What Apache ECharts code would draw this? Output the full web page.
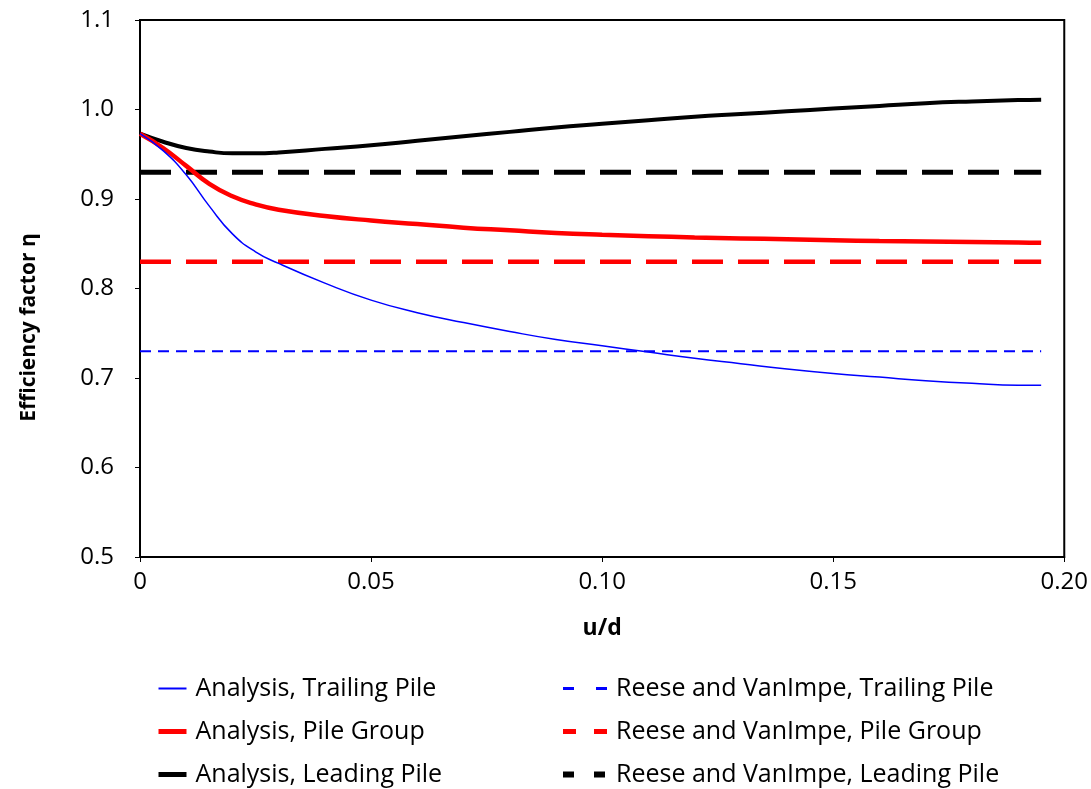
<!DOCTYPE html>
<html>
<head>
<meta charset="utf-8">
<script src="https://cdn.jsdelivr.net/npm/echarts@6/dist/echarts.min.js"></script>
<style>
  html, body { margin: 0; padding: 0; background: #fff; }
  #chart { width: 1091px; height: 789px; }
</style>
</head>
<body>
<div id="chart"></div>
<script>
// Horizontal displacement ratio u/d
const uValues = [0, 0.005, 0.01, 0.015, 0.02, 0.025, 0.03, 0.04, 0.05, 0.06, 0.07, 0.08,
                 0.09, 0.10, 0.11, 0.12, 0.13, 0.14, 0.15, 0.16, 0.17, 0.18, 0.19, 0.195];

// Efficiency factor from the analysis
const trailingPile = [0.973, 0.954, 0.927, 0.892, 0.861, 0.841, 0.828, 0.806, 0.787, 0.773, 0.762, 0.752,
                      0.743, 0.736, 0.729, 0.722, 0.716, 0.710, 0.705, 0.701, 0.697, 0.694, 0.692, 0.692];
const pileGroup    = [0.973, 0.957, 0.937, 0.917, 0.903, 0.894, 0.888, 0.881, 0.876, 0.872, 0.868, 0.865,
                      0.862, 0.860, 0.8585, 0.857, 0.856, 0.855, 0.854, 0.853, 0.8525, 0.852, 0.8515, 0.851];
const leadingPile  = [0.973, 0.964, 0.957, 0.953, 0.951, 0.951, 0.952, 0.956, 0.960, 0.965, 0.970, 0.975,
                      0.980, 0.984, 0.988, 0.992, 0.995, 0.998, 1.001, 1.004, 1.007, 1.009, 1.0105, 1.011];

// Constant efficiency factors (Reese and VanImpe)
const reeseRange = [0, 0.195];
const reeseTrailing = 0.73;
const reeseGroup = 0.83;
const reeseLeading = 0.93;

const seriesNames = [
  'Analysis, Trailing Pile', 'Analysis, Pile Group', 'Analysis, Leading Pile',
  'Reese and VanImpe, Trailing Pile', 'Reese and VanImpe, Pile Group', 'Reese and VanImpe, Leading Pile'
];

const xTicks = [0, 0.05, 0.10, 0.15, 0.20];
const yTicks = [0.5, 0.6, 0.7, 0.8, 0.9, 1.0, 1.1];

const FONT = '"Open Sans"';

function pairs(ys) { return uValues.map((u, i) => [u, ys[i]]); }
function flat(v) { return reeseRange.map(u => [u, v]); }

const chart = echarts.init(document.getElementById('chart'));

const legendText = { fontFamily: FONT, fontSize: 25, color: '#000', padding: [0, 0, 0, 4] };
// legend shows only the line sample, no marker
const legendMarker = { opacity: 0 };

chart.setOption({
  animation: false,
  backgroundColor: '#fff',
  grid: {
    left: 140, right: 26, top: 20, bottom: 232,
    show: true, borderColor: '#000', borderWidth: 2, backgroundColor: 'transparent'
  },
  xAxis: {
    type: 'value',
    min: xTicks[0], max: xTicks[xTicks.length - 1], interval: 0.05,
    name: 'u/d', nameLocation: 'middle', nameGap: 60,
    nameTextStyle: { fontFamily: FONT, fontSize: 23, fontWeight: 'bold', color: '#000' },
    axisLine: { lineStyle: { color: '#000', width: 2 } },
    axisTick: { show: true, length: 5, lineStyle: { color: '#000', width: 1 } },
    axisLabel: {
      margin: 13, fontFamily: FONT, fontSize: 24, color: '#000',
      formatter: v => (v === 0 ? '0' : v.toFixed(2))
    },
    splitLine: { show: false }
  },
  yAxis: {
    type: 'value',
    min: yTicks[0], max: yTicks[yTicks.length - 1], interval: 0.1,
    name: 'Efficiency factor η', nameLocation: 'middle', nameGap: 100,
    nameTextStyle: {
      fontFamily: FONT, fontSize: 21, fontWeight: 'bold', color: '#000',
      padding: [0, 78, 0, 0]
    },
    axisLine: { lineStyle: { color: '#000', width: 2 } },
    axisTick: { show: true, length: 5, lineStyle: { color: '#000', width: 1 } },
    axisLabel: {
      margin: 26, fontFamily: FONT, fontSize: 24, color: '#000',
      formatter: v => v.toFixed(1)
    },
    splitLine: { show: false }
  },
  legend: [
    {
      orient: 'vertical', left: 156, top: 676, itemGap: 18, padding: 0,
      itemWidth: 28, itemHeight: 14, textStyle: legendText, itemStyle: legendMarker,
      data: [
        { name: seriesNames[0], lineStyle: { width: 2 } },
        { name: seriesNames[1], lineStyle: { width: 5 } },
        { name: seriesNames[2], lineStyle: { width: 5 } }
      ]
    },
    {
      orient: 'vertical', left: 560, top: 676, itemGap: 18, padding: 0,
      itemWidth: 44, itemHeight: 14, textStyle: legendText, itemStyle: legendMarker,
      data: [
        { name: seriesNames[3], lineStyle: { width: 3, type: [11, 22] } },
        { name: seriesNames[4], lineStyle: { width: 5, type: [13, 18] } },
        { name: seriesNames[5], lineStyle: { width: 6, type: [11, 20] } }
      ]
    }
  ],
  series: [
    {
      name: seriesNames[0], type: 'line', data: pairs(trailingPile), smooth: 0.5,
      symbol: 'none', lineStyle: { color: '#0000ff', width: 1.5 }, itemStyle: { color: '#0000ff' }, z: 5
    },
    {
      name: seriesNames[1], type: 'line', data: pairs(pileGroup), smooth: 0.5,
      symbol: 'none', lineStyle: { color: '#ff0000', width: 4.5 }, itemStyle: { color: '#ff0000' }, z: 4
    },
    {
      name: seriesNames[2], type: 'line', data: pairs(leadingPile), smooth: 0.5,
      symbol: 'none', lineStyle: { color: '#000000', width: 4 }, itemStyle: { color: '#000000' }, z: 3
    },
    {
      name: seriesNames[3], type: 'line', data: flat(reeseTrailing),
      symbol: 'none', lineStyle: { color: '#0000ff', width: 2, type: [11, 7] }, itemStyle: { color: '#0000ff' }
    },
    {
      name: seriesNames[4], type: 'line', data: flat(reeseGroup),
      symbol: 'none', lineStyle: { color: '#ff0000', width: 4.5, type: [31, 15] }, itemStyle: { color: '#ff0000' }
    },
    {
      name: seriesNames[5], type: 'line', data: flat(reeseLeading),
      symbol: 'none', lineStyle: { color: '#000000', width: 5, type: [31, 15] }, itemStyle: { color: '#000000' }
    }
  ]
});
</script>
</body>
</html>
